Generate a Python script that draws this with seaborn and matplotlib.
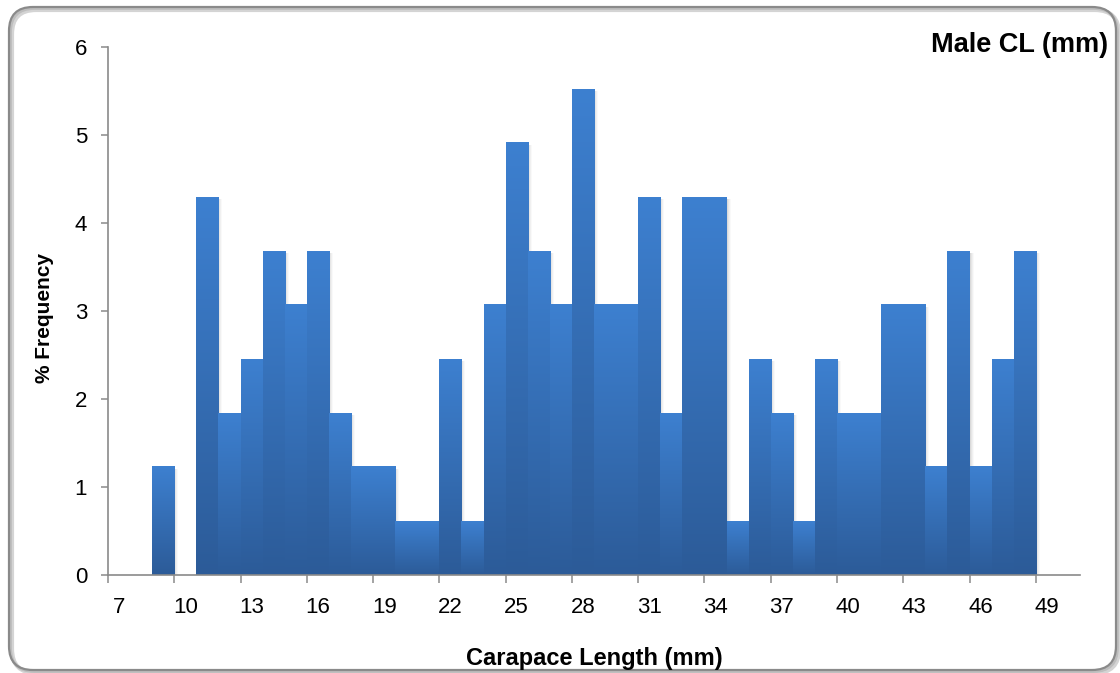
import numpy as np
import pandas as pd
import matplotlib
matplotlib.use("Agg")
import matplotlib.pyplot as plt
from matplotlib.patches import FancyBboxPatch, Rectangle
from matplotlib.colors import to_rgb
import seaborn as sns

# Carapace length classes (mm) and percentage frequency of males in each class
lengths = list(range(7, 51))
pct_freq = [0, 0, 1.23, 0, 4.29, 1.84, 2.45, 3.68, 3.07, 3.68,
            1.84, 1.23, 1.23, 0.61, 0.61, 2.45, 0.61, 3.07, 4.91, 3.68,
            3.07, 5.52, 3.07, 3.07, 4.29, 1.84, 4.29, 4.29, 0.61, 2.45,
            1.84, 0.61, 2.45, 1.84, 1.84, 3.07, 3.07, 1.23, 3.68, 1.23,
            2.45, 3.68, 0, 0]
tick_labels = [str(v) for v in range(7, 50, 3)]
y_ticks = [0, 1, 2, 3, 4, 5, 6]

sns.set_theme(style="white")
plt.rcParams["font.family"] = ["Liberation Sans", "DejaVu Sans"]

W, H = 1120, 673
fig = plt.figure(figsize=(W / 100, H / 100), dpi=100)
fig.patch.set_facecolor("white")

# rounded chart-area frame with a soft shadow
for off, col, lw in [(3, "#d4d4d4", 3.0), (1.5, "#bdbdbd", 2.0)]:
    fig.patches.append(FancyBboxPatch((9 + off, 3 - off), 1107, 663,
                                      boxstyle="round,pad=0,rounding_size=24",
                                      transform=None, fill=False,
                                      edgecolor=col, linewidth=lw, zorder=0))
fig.patches.append(FancyBboxPatch((9, 3), 1107, 663,
                                  boxstyle="round,pad=0,rounding_size=24",
                                  transform=None, fill=False,
                                  edgecolor="#8a8a8a", linewidth=1.6, zorder=1))

ax = fig.add_axes([108 / W, 1 - 575 / H, (1080 - 108) / W, (575 - 47) / H])
ax.set_facecolor("none")

df = pd.DataFrame({"length": [str(v) for v in lengths], "pct": pct_freq})
sns.barplot(data=df, x="length", y="pct", order=df["length"], width=1.0,
            color="#3a7cc9", saturation=1, ax=ax, errorbar=None)

# vertical gradient fill for each bar, lighter at the top
top_c = np.array(to_rgb("#3d80d0"))
bot_c = np.array(to_rgb("#2c5b98"))
grad = np.linspace(0, 1, 256)[:, None, None]
grad_img = top_c * (1 - grad) + bot_c * grad
px = 1 / 22.1
for p in ax.patches:
    h = p.get_height()
    x0 = p.get_x()
    w = p.get_width()
    p.set_visible(False)
    if h <= 0:
        continue
    for k, a in [(1, 0.10), (2, 0.08), (3, 0.06), (4, 0.04)]:
        ax.add_patch(Rectangle((x0 + w, 0), k * px, h - 0.02, facecolor="#707070",
                               edgecolor="none", alpha=a, zorder=1))
    ax.imshow(grad_img, extent=(x0, x0 + w, 0, h), origin="upper",
              aspect="auto", zorder=2, interpolation="bilinear")

ax.set_xlim(-0.5, len(lengths) - 0.5)
ax.set_ylim(0, 6)

# ticks sit on class boundaries, labels at class centres
ax.set_xticks([-0.5 + 3 * k for k in range(len(tick_labels))])
ax.set_xticklabels([])
ax.set_xticks([3 * k for k in range(len(tick_labels))], minor=True)
ax.set_xticklabels(tick_labels, minor=True)
ax.tick_params(axis="x", which="major", direction="out", length=6, width=1.1,
               color="#8a8a8a", bottom=True)
ax.tick_params(axis="x", which="minor", length=0, pad=16, labelsize=16,
               labelcolor="black", bottom=True)
ax.set_yticks(y_ticks)
ax.set_yticklabels([str(v) for v in y_ticks])
ax.tick_params(axis="y", direction="out", length=5, width=1.1, color="#8a8a8a",
               pad=10, labelsize=16, labelcolor="black", left=True)

for s in ["top", "right"]:
    ax.spines[s].set_visible(False)
for s in ["left", "bottom"]:
    ax.spines[s].set_color("#8a8a8a")
    ax.spines[s].set_linewidth(1.2)
    ax.spines[s].set_zorder(3)

ax.set_xlabel("")
ax.set_ylabel("")
fig.text(594 / W, 1 - 658 / H, "Carapace Length (mm)", ha="center", va="center",
         fontsize=17, fontweight="bold", color="black")
fig.text(45 / W, 1 - 318 / H, "% Frequency", ha="center", va="center",
         rotation=90, fontsize=15, fontweight="bold", color="black")
fig.text(1108 / W, 1 - 45 / H, "Male CL (mm)", ha="right", va="center",
         fontsize=19.5, fontweight="bold", color="black")

fig.savefig("out.png", dpi=100)
